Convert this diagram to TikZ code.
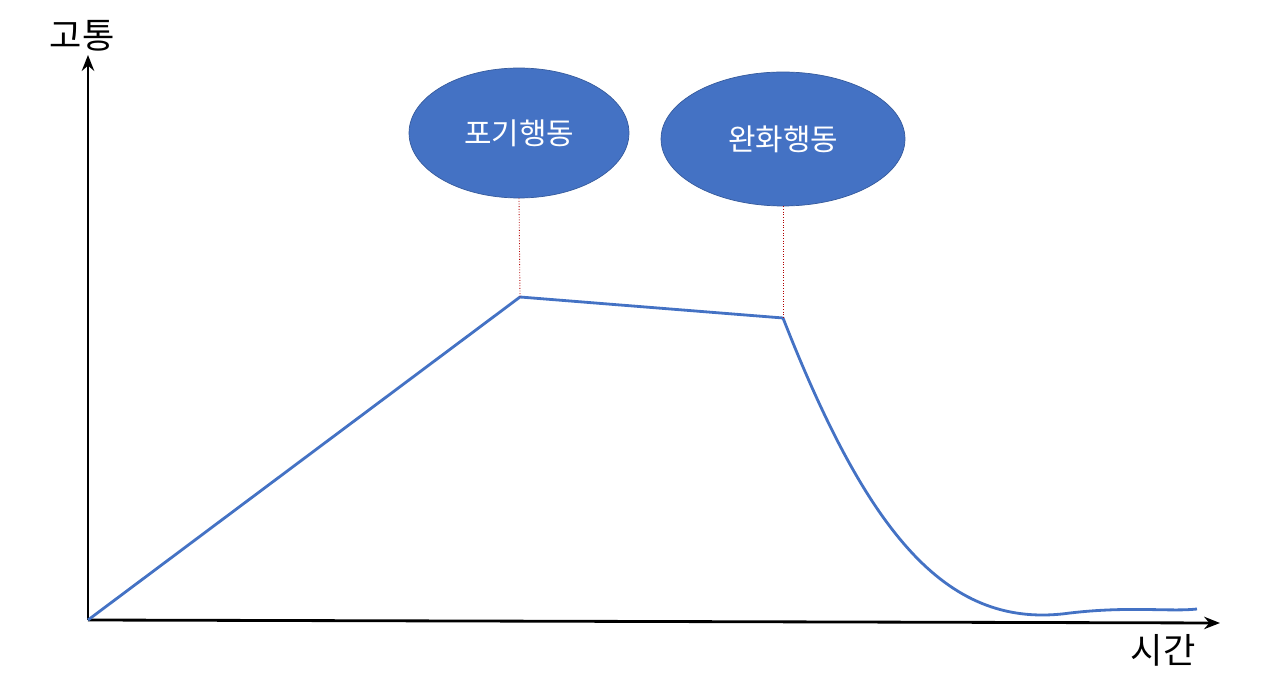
\documentclass[tikz,border=0pt]{standalone}
\usepackage{fontspec}
\setmainfont{Noto Sans CJK KR}
\usetikzlibrary{shapes.geometric,arrows.meta}
\definecolor{bl}{HTML}{4472C4}
\tikzset{bub/.style={ellipse,fill=bl,draw=bl!80!black,text=white,font=\fontsize{17}{20}\selectfont,inner sep=0pt},
axis/.style={line width=1.6pt,-{Stealth[length=9pt,width=7pt]}},
guide/.style={red!70!black,densely dotted,line width=0.5pt},
curve/.style={bl,line width=1.6pt}}
\begin{document}
\begin{tikzpicture}[x=0.02cm,y=-0.02cm]
\useasboundingbox (0,0) rectangle (1280,688);
\coordinate (o) at (88,620);
\coordinate (ytop) at (88,55);
\coordinate (xend) at (1220,623);
\draw[axis] (o) -- (ytop);
\draw[axis] (o) -- (xend);
\node[font=\fontsize{20}{24}\selectfont] (yl) at (82,36) {고통};
\node[font=\fontsize{20}{24}\selectfont] (xl) at (1163,650) {시간};
\coordinate (p1) at (520,297);
\coordinate (p2) at (783,318);
\coordinate (p3) at (1197,609);
\draw[curve,line join=round] (o) -- (p1) -- (p2) .. controls (870,540) and (950,630) .. (1070,613) .. controls (1130,606) and (1170,612) .. (p3);
\node[bub,minimum width=220\pgflinewidth*0+4.4cm,minimum height=2.6cm] (a) at (519,133) {포기행동};
\node[bub,minimum width=4.88cm,minimum height=2.68cm] (b) at (783,139) {완화행동};
\draw[guide] (a.south) -- (p1);
\draw[guide] (b.south) -- (p2);
\end{tikzpicture}
\end{document}
